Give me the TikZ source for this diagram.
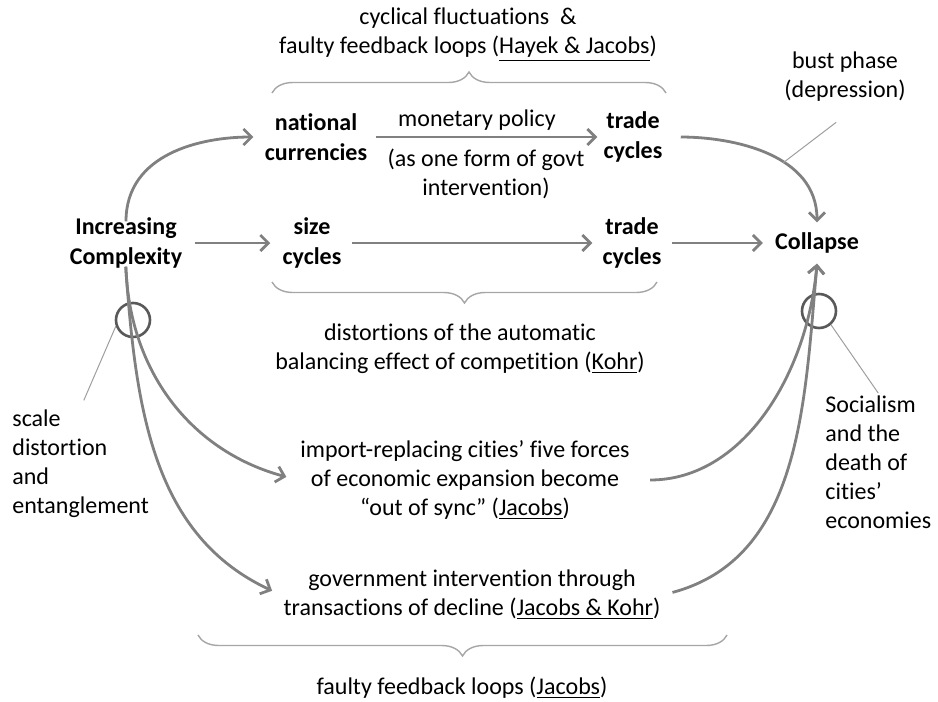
\documentclass[tikz,border=0pt]{standalone}
\usepackage{fontspec}
\setmainfont{Carlito}[Ligatures={NoCommon}]
\usetikzlibrary{arrows.meta,decorations.pathreplacing,calc}

\begin{document}
\begin{tikzpicture}[x=0.5pt, y=0.5pt, font=\fontsize{12}{14.5}\selectfont]
\tikzstyle{txt}=[align=center, inner sep=1pt]
\tikzstyle{key}=[txt, font=\fontsize{12}{15}\selectfont\bfseries]
\tikzstyle{flow}=[draw=black!50, line width=1.4pt, -{Straight Barb[length=4pt, width=8pt]}]
\tikzstyle{ring}=[circle, draw=black!65, line width=1.3pt, minimum size=17pt, inner sep=0pt]
\tikzstyle{note}=[draw=black!38, line width=0.5pt]
\tikzstyle{brace}=[draw=black!35, line width=0.7pt, decorate, decoration={brace, amplitude=10.5pt}]
    \useasboundingbox (0,0) rectangle (938,-702);

    % main row
    \node [key] (inc) at (126,-243) {Increasing\\Complexity};
    \node [key] (size) at (312,-243) {size\\cycles};
    \node [key] (trade2) at (632,-243) {trade\\cycles};
    \node [key, inner ysep=5pt] (coll) at (817,-243) {Collapse};

    % upper row
    \node [key] (natcur) at (316,-137) {national\\currencies};
    \node [key] (trade1) at (633,-137) {trade\\cycles};
    \node [txt] (monet) at (477,-120) {monetary policy};
    \node [txt] (govt) at (486,-174) {(as one form of govt\\intervention)};

    % lower row
    \node [txt] (import) at (465,-480) {import-replacing cities’ five forces\\of economic expansion become\\“out of sync” (\underline{Jacobs})};
    \node [txt] (gov) at (472,-595) {government intervention through\\transactions of decline (\underline{Jacobs \& Kohr})};

    % comments
    \node [txt] (hayek) at (468,-35) {cyclical fluctuations \ \&\\faulty feedback loops (\underline{Hayek \& Jacobs})};
    \node [txt] (kohr) at (460,-349) {distortions of the automatic\\balancing effect of competition (\underline{Kohr})};
    \node [txt] (jacobs) at (462,-688) {faulty feedback loops (\underline{Jacobs})};
    \node [txt] (bust) at (845,-77) {bust phase\\(depression)};
    \node [txt, align=left, anchor=west] (scale) at (10,-464) {scale\\distortion\\and\\entanglement};
    \node [txt, align=left, anchor=west] (social) at (823,-462) {Socialism\\and the\\death of\\cities’\\economies};

    \node [ring] (lcirc) at (133,-320) {};
    \node [ring] (rcirc) at (819,-311) {};

    % arrows
    \draw [flow, shorten <=5pt, shorten >=5pt] (inc) -- (size);
    \draw [flow, shorten <=4pt, shorten >=4pt] (size) -- (trade2);
    \draw [flow, shorten <=4pt, shorten >=5pt] (trade2) -- (coll);
    \draw [flow, shorten <=3pt, shorten >=2pt] (natcur) -- (trade1);
    \draw [flow, shorten <=-3pt, shorten >=4.5pt] (inc.north) to [out=90, in=180] (natcur.west);
    \draw [flow, shorten <=8pt] (trade1.east) to [out=0, in=90] coordinate [pos=0.6] (bustpt) (coll.north);
    \draw [flow, shorten <=-2pt, shorten >=6pt] (inc.south) to [out=-88, in=165] (import.west);
    \draw [flow, shorten <=-2pt, shorten >=5pt] (inc.south) to [out=-86, in=155] (gov.west);
    \draw [flow, shorten <=9pt] (import.east) to [out=0, in=-95] (coll.south);
    \draw [flow, shorten <=5pt] (gov.east) to [out=15, in=-95] (coll.south);

    % pointers
    \draw [note, shorten >=15pt] (bustpt) -- ($(bust.south)+(15,0)$);
    \draw [note, shorten >=4pt] (lcirc.200) -- (scale.north);
    \draw [note] (rcirc.311) -- (social.north);

    % braces
    \draw [brace] (272,-93) -- (666,-93);
    \draw [brace] (657,-282) -- (272,-282);
    \draw [brace] (727,-635) -- (198,-635);
\end{tikzpicture}
\end{document}
